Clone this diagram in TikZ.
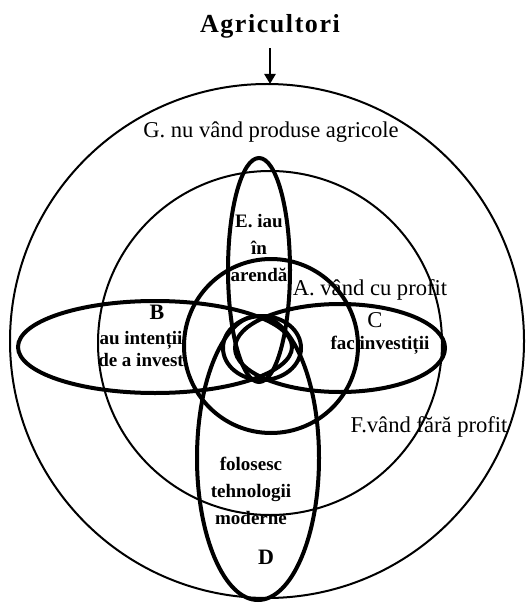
\documentclass[tikz,border=0pt]{standalone}
\usepackage{fontspec}
\setmainfont{Liberation Serif}
\usetikzlibrary{arrows.meta}
\tikzset{
  ring/.style={line width=1pt},
  setline/.style={line width=2pt},
  lbl/.style={font=\fontsize{11.3}{13}\selectfont,inner sep=0pt},
  sub/.style={font=\fontsize{9.5}{13.5}\selectfont\bfseries,align=center,inner sep=0pt},
  arr/.style={-{Triangle[length=5pt,width=5.5pt]},line width=1.2pt},
}

\begin{document}
\begin{tikzpicture}[x=0.5pt,y=-0.5pt]
  \useasboundingbox (0,0) rectangle (525,604);
  % outer rings G and F
  \draw[ring] (267,341) circle [radius=257];
  \draw[ring] (270,343) circle [radius=172];
  % sets A..E and the core
  \draw[setline] (271,346) circle [radius=87];
  \draw[setline] (155,347) ellipse [x radius=137,y radius=46];
  \draw[setline] (340,348) ellipse [x radius=105,y radius=44];
  \draw[setline] (258,458) ellipse [x radius=61,y radius=142];
  \draw[setline] (259,270) ellipse [x radius=31,y radius=112];
  \draw[setline] (262,348) ellipse [x radius=39,y radius=32];

  \node[font=\fontsize{13}{15}\selectfont\bfseries\addfontfeature{LetterSpace=6},
        inner sep=0pt] (title) at (270,26) {Agricultori};
  \coordinate (gtop) at (270,84);
  \draw[arr,shorten <=5pt] (title) -- (gtop);

  \node[lbl] (glbl) at (271,132) {G. nu vând produse agricole};
  \node[lbl] (albl) at (370,290) {A. vând cu profit};
  \node[lbl] (flbl) at (429,427) {F.vând fără profit};
  \node[sub] (elbl) at (259,248) {E. iau\\în\\arendă};
  \node[sub,font=\fontsize{11}{13}\selectfont\bfseries] (bname) at (157,312) {B};
  \node[sub] (blbl) at (141,349) {au intenții\\[-2.5pt]de a invest};
  \node[lbl] (cname) at (375,320) {C};
  \node[sub] (clbl) at (380,345) {fac investiții};
  \node[sub] (dlbl) at (251,491) {folosesc\\tehnologii\\moderne};
  \node[sub,font=\fontsize{11}{13}\selectfont\bfseries] (dname) at (266,557) {D};
\end{tikzpicture}
\end{document}
